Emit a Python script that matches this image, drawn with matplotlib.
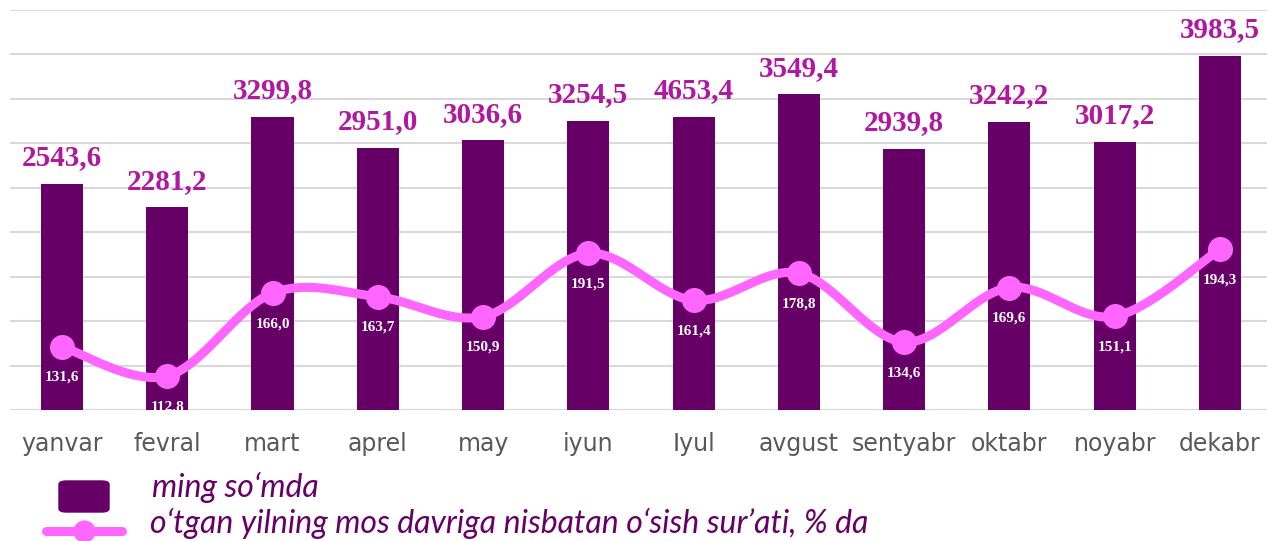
import numpy as np
import matplotlib
matplotlib.use("Agg")
from matplotlib import pyplot as plt
from matplotlib.patches import FancyBboxPatch
from matplotlib.lines import Line2D

months = ["yanvar", "fevral", "mart", "aprel", "may", "iyun",
          "Iyul", "avgust", "sentyabr", "oktabr", "noyabr", "dekabr"]
# bar heights as drawn (ming so'mda)
volume = [2543.6, 2281.2, 3299.8, 2951.0, 3036.6, 3254.5,
          3300.0, 3549.4, 2939.8, 3242.2, 3017.2, 3983.5]
# labels as printed above bars
volume_labels = ["2543,6", "2281,2", "3299,8", "2951,0", "3036,6", "3254,5",
                 "4653,4", "3549,4", "2939,8", "3242,2", "3017,2", "3983,5"]
growth = [131.6, 112.8, 166.0, 163.7, 150.9, 191.5,
          161.4, 178.8, 134.6, 169.6, 151.1, 194.3]

bar_color = "#660066"
label_color = "#B0189E"
line_color = "#FF66FF"
legend_text_color = "#660066"


def smooth(xs, ys, n=40):
    # cardinal (Catmull-Rom like) curve through the points, like Excel's smoothed line
    xs = np.asarray(xs, float)
    ys = np.asarray(ys, float)
    px = np.concatenate([[xs[0]], xs, [xs[-1]]])
    py = np.concatenate([[ys[0]], ys, [ys[-1]]])
    out_x, out_y = [], []
    t = np.linspace(0, 1, n)
    for i in range(1, len(px) - 2):
        p0, p1, p2, p3 = (np.array([px[j], py[j]]) for j in range(i - 1, i + 3))
        c1 = p1 + (p2 - p0) / 6
        c2 = p2 - (p3 - p1) / 6
        b = ((1 - t) ** 3)[:, None] * p1 + (3 * (1 - t) ** 2 * t)[:, None] * c1 \
            + (3 * (1 - t) * t ** 2)[:, None] * c2 + (t ** 3)[:, None] * p2
        out_x.extend(b[:, 0])
        out_y.extend(b[:, 1])
    return np.array(out_x), np.array(out_y)


W, H = 1267, 541
fig = plt.figure(figsize=(W / 100, H / 100), dpi=100)
ax = fig.add_axes([10 / W, (H - 410) / H, (W - 10) / W, 400 / H])

x = np.arange(len(months))
ax.bar(x, volume, width=0.4, color=bar_color, zorder=2)
ax.set_ylim(0, 4500)
ax.set_xlim(-0.494, 11.447)
ax.set_yticks(np.arange(0, 4501, 500))
ax.yaxis.grid(True, color="#D9D9D9", linewidth=1.5, zorder=0)
ax.set_axisbelow(True)
ax.set_xticks(x)
ax.set_xticklabels(months, family="DejaVu Sans")
for s in ax.spines.values():
    s.set_visible(False)

for xi, v, lab in zip(x, volume, volume_labels):
    ax.annotate(lab, (xi, v), xytext=(0, 9), textcoords="offset points",
                ha="center", va="bottom", fontsize=21, fontweight="bold",
                family="Liberation Serif", color=label_color, zorder=5)

ax2 = ax.twinx()
ax2.set_ylim(91.0, 347.7)
ax2.axis("off")
# twinx puts the left ticks back, so switch them off afterwards
ax.tick_params(axis="y", left=False, labelleft=False, right=False)
ax.tick_params(axis="x", length=0, pad=16, labelsize=17, labelcolor="#595959")

sx, sy = smooth(x, growth)
ax2.plot(sx, sy, color=line_color, linewidth=6.5, solid_capstyle="round", zorder=3)
ax2.plot(x, growth, "o", color=line_color, markersize=17, zorder=4)
for xi, g in zip(x, growth):
    ax2.annotate(f"{g:.1f}".replace(".", ","), (xi, g), xytext=(0, -22),
                 textcoords="offset points", ha="center", va="center",
                 fontsize=11, fontweight="bold", family="Liberation Serif",
                 color="white", zorder=6)

# legend drawn by hand at the bottom
fig.add_artist(FancyBboxPatch((59 / W, (H - 512) / H), 50 / W, 31 / H,
                              boxstyle="round,pad=0,rounding_size=0.006",
                              transform=fig.transFigure, color=bar_color))
fig.add_artist(Line2D([46 / W, 122 / W], [(H - 531) / H] * 2,
                      transform=fig.transFigure, color=line_color,
                      linewidth=6.5, solid_capstyle="round"))
fig.add_artist(Line2D([84 / W], [(H - 531) / H], transform=fig.transFigure,
                      marker="o", color=line_color, markersize=15))
fig.text(152 / W, (H - 487) / H, "ming so\u2018mda", fontsize=23, style="italic",
         family="Lato", color=legend_text_color, va="center")
fig.text(150 / W, (H - 523) / H,
         "o\u2018tgan yilning mos davriga nisbatan o\u2018sish sur\u2019ati, % da",
         fontsize=23, style="italic", family="Lato", color=legend_text_color,
         va="center")

fig.savefig("out.png", dpi=100)
